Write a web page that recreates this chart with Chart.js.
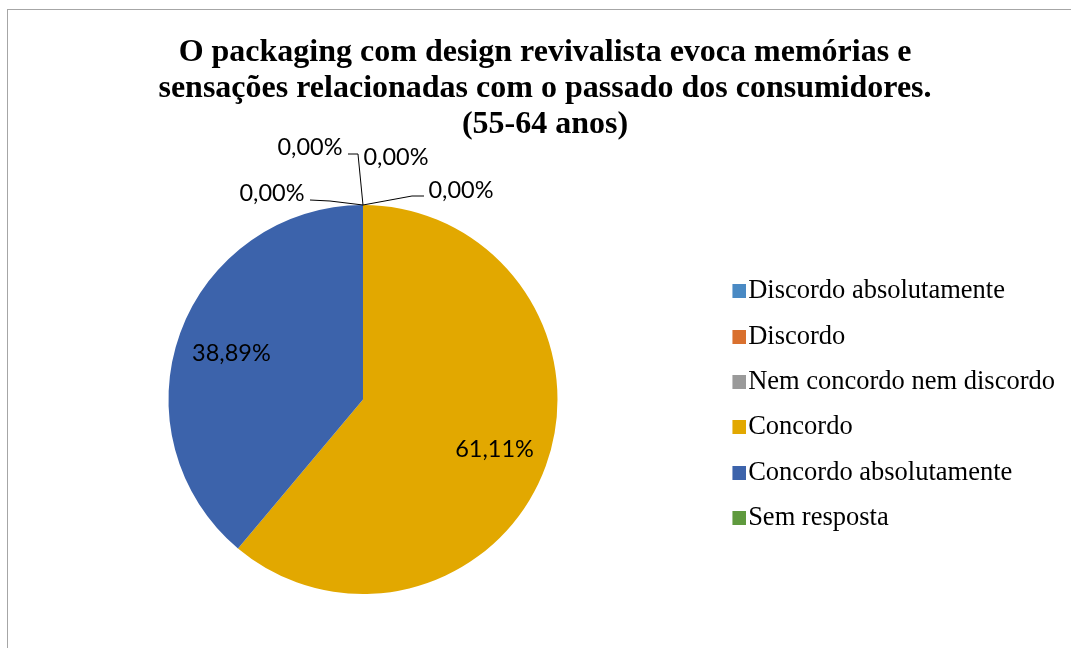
<!DOCTYPE html>
<html>
<head>
<meta charset="utf-8">
<script src="https://cdn.jsdelivr.net/npm/chart.js@4.4.1/dist/chart.umd.min.js"></script>
<style>
  html, body { margin: 0; padding: 0; background: #fff; }
  canvas { display: block; }
</style>
</head>
<body>
<canvas id="chart" width="1071" height="648"></canvas>
<script>
const titleLines = [
  "O packaging com design revivalista evoca memórias e",
  "sensações relacionadas com o passado dos consumidores.",
  "(55-64 anos)",
];
const categories = [
  "Discordo absolutamente",
  "Discordo",
  "Nem concordo nem discordo",
  "Concordo",
  "Concordo absolutamente",
  "Sem resposta",
];
const shares = [0, 0, 0, 61.11, 38.89, 0];
const sliceColors = ["#4a8ac4", "#d9702e", "#9a9a9a", "#e2a800", "#3c63ab", "#5f9a3e"];

// where the 0,00% labels sit, relative to the point where their slice touches the rim
const zeroLabelPlacement = {
  0: { dx: 33, dy: -48, leader: [] },
  1: { dx: 98, dy: -15, leader: [[49, -9], [61, -9]] },
  2: { dx: -53, dy: -58, leader: [[-5, -51], [-15, -51]] },
  5: { dx: -91, dy: -12, leader: [[-33, -4], [-53, -5]] },
};

const fmt = (v) => v.toFixed(2).replace(".", ",") + "%";

// legend swatch: a 14px square sitting right next to the text
function swatch(color) {
  const c = document.createElement("canvas");
  c.width = 38;
  c.height = 14;
  const g = c.getContext("2d");
  g.fillStyle = color;
  g.fillRect(24, 0, 14, 14);
  return c;
}

const frame = {
  id: "frame",
  beforeDraw(chart) {
    const ctx = chart.ctx;
    ctx.save();
    ctx.fillStyle = "#fff";
    ctx.fillRect(0, 0, chart.width, chart.height);
    ctx.strokeStyle = "#a6a6a6";
    ctx.lineWidth = 1;
    ctx.strokeRect(7.5, 9.5, chart.width + 20, chart.height + 20);
    ctx.restore();
  },
};

const sliceLabels = {
  id: "sliceLabels",
  afterDatasetsDraw(chart) {
    const ctx = chart.ctx;
    const meta = chart.getDatasetMeta(0);
    ctx.save();
    ctx.font = "23.5px Lato";
    ctx.fillStyle = "#000";
    ctx.strokeStyle = "#000";
    ctx.lineWidth = 1;
    ctx.textAlign = "center";
    ctx.textBaseline = "middle";
    meta.data.forEach((arc, i) => {
      const p = arc.getProps(["x", "y", "startAngle", "endAngle", "outerRadius"], true);
      const mid = (p.startAngle + p.endAngle) / 2;
      let lx, ly;
      if (shares[i] > 0) {
        lx = p.x + Math.cos(mid) * p.outerRadius * 0.72;
        ly = p.y + Math.sin(mid) * p.outerRadius * 0.72 + 2;
      } else {
        const ax = p.x + Math.cos(mid) * p.outerRadius;
        const ay = p.y + Math.sin(mid) * p.outerRadius;
        const pl = zeroLabelPlacement[i];
        lx = ax + pl.dx;
        ly = ay + pl.dy;
        if (pl.leader.length) {
          ctx.beginPath();
          ctx.moveTo(ax, ay);
          pl.leader.forEach(([dx, dy]) => ctx.lineTo(ax + dx, ay + dy));
          ctx.stroke();
        }
      }
      ctx.fillText(fmt(shares[i]), lx, ly);
    });
    ctx.restore();
  },
};

const baseLabels = Chart.overrides.pie.plugins.legend.labels.generateLabels;

new Chart(document.getElementById("chart"), {
  type: "pie",
  data: {
    labels: categories,
    datasets: [{
      data: shares,
      backgroundColor: sliceColors,
      borderWidth: 0,
    }],
  },
  options: {
    responsive: false,
    animation: false,
    layout: { padding: { left: 25, right: 6, top: 0, bottom: 54 } },
    plugins: {
      title: {
        display: true,
        text: titleLines,
        color: "#000",
        font: { family: "'Liberation Serif', 'Times New Roman', serif", size: 32, weight: "bold", lineHeight: "36px" },
        padding: { top: 35, bottom: 62 },
      },
      legend: {
        position: "right",
        align: "start",
        title: { display: true, text: " ", font: { size: 1, lineHeight: "1px" }, padding: { top: 258, bottom: 0 } },
        labels: {
          color: "#000",
          font: { family: "'Liberation Serif', 'Times New Roman', serif", size: 26.5 },
          usePointStyle: true,
          pointStyleWidth: 15,
          boxHeight: 14,
          padding: 18.9,
          generateLabels(chart) {
            return baseLabels(chart).map((item) => ({ ...item, pointStyle: swatch(item.fillStyle) }));
          },
        },
      },
      tooltip: { enabled: false },
    },
  },
  plugins: [frame, sliceLabels],
});
</script>
</body>
</html>
